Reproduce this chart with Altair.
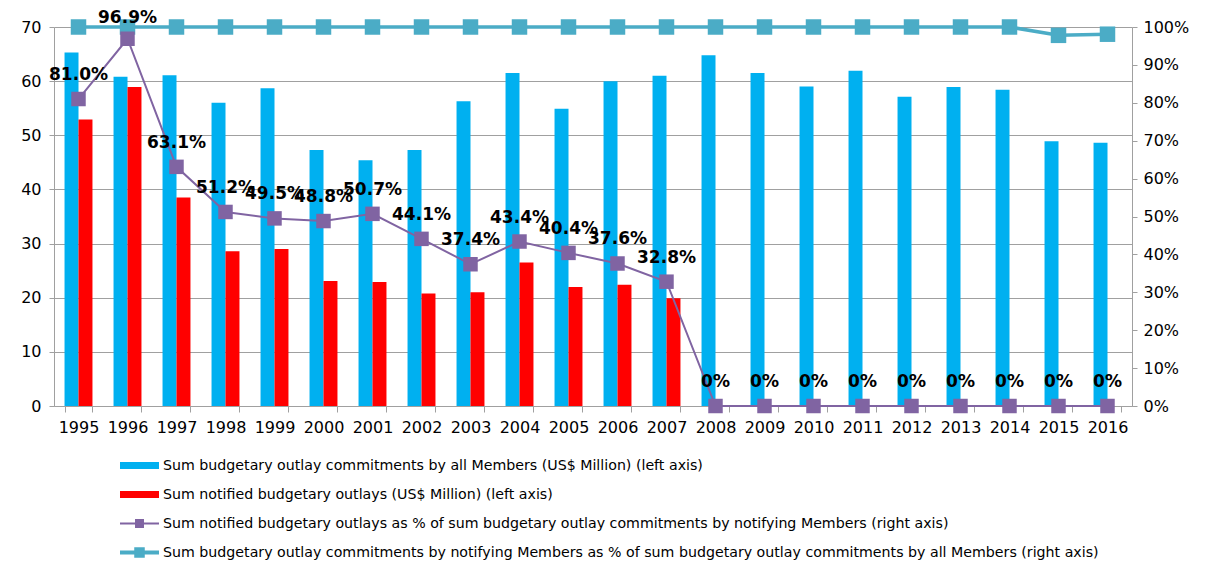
import altair as alt
import pandas as pd

years = [str(y) for y in range(1995, 2017)]
all_members = [65.3, 60.8, 61.1, 56.0, 58.7, 47.3, 45.4, 47.3, 56.3, 61.5, 54.9,
               60.0, 61.0, 64.8, 61.5, 59.0, 61.9, 57.1, 58.9, 58.4, 48.9, 48.6]
notified = [52.9, 58.9, 38.5, 28.6, 29.0, 23.1, 22.9, 20.8, 21.0, 26.5, 22.0,
            22.4, 19.9, None, None, None, None, None, None, None, None, None]
pct_notified = [81.0, 96.9, 63.1, 51.2, 49.5, 48.8, 50.7, 44.1, 37.4, 43.4, 40.4,
                37.6, 32.8, 0, 0, 0, 0, 0, 0, 0, 0, 0]
pct_notifying = [100, 100, 100, 100, 100, 100, 100, 100, 100, 100, 100,
                 100, 100, 100, 100, 100, 100, 100, 100, 100, 97.8, 98.1]

series = [
    "Sum budgetary outlay commitments by all Members (US$ Million) (left axis)",
    "Sum notified budgetary outlays (US$ Million) (left axis)",
    "Sum notified budgetary outlays as % of sum budgetary outlay commitments by notifying Members (right axis)",
    "Sum budgetary outlay commitments by notifying Members as % of sum budgetary outlay commitments by all Members (right axis)",
]
colors = ["#00B0F0", "#FF0000", "#8064A2", "#4BACC6"]
bar_path = "M-1,-0.18H1V0.18H-1Z"
purple_path = "M-1,-0.05H1V0.05H-1Z M-0.23,-0.23H0.23V0.23H-0.23Z"
teal_path = "M-1,-0.1H1V0.1H-1Z M-0.27,-0.27H0.27V0.27H-0.27Z"
shapes = [bar_path, bar_path, purple_path, teal_path]

FONT = "DejaVu Sans"
GRID = "#a0a0a0"

bars_df = pd.DataFrame(
    [{"year": y, "series": series[0], "value": v} for y, v in zip(years, all_members)]
    + [{"year": y, "series": series[1], "value": v} for y, v in zip(years, notified) if v is not None]
)
lines_df = pd.DataFrame({"year": years, "pct": pct_notified, "pct2": pct_notifying})
legend_df = pd.DataFrame({"series": series})

xscale = alt.Scale(paddingInner=0.43, paddingOuter=0.215)
xaxis = alt.Axis(title=None, tickBand="extent", labelFont=FONT, labelFontSize=16,
                 labelColor="#000", tickColor=GRID, domainColor=GRID, tickSize=6,
                 labelPadding=7, labelAngle=0)

bars = alt.Chart(bars_df).mark_bar().encode(
    x=alt.X("year:O", scale=xscale, axis=xaxis),
    xOffset=alt.XOffset("series:N", scale=alt.Scale(domain=series[:2], paddingInner=0, paddingOuter=0)),
    y=alt.Y("value:Q", scale=alt.Scale(domain=[0, 70], nice=False),
            axis=alt.Axis(title=None, values=list(range(0, 71, 10)), grid=True, gridColor=GRID,
                          gridOpacity=1, domainColor=GRID, tickColor=GRID, tickSize=5,
                          labelPadding=8, labelFont=FONT, labelFontSize=16, labelColor="#000",
                          labelOverlap=False)),
    color=alt.Color("series:N", scale=alt.Scale(domain=series[:2], range=colors[:2]), legend=None),
)

yr = alt.Scale(domain=[0, 100], nice=False)
yr_axis = alt.Axis(title=None, orient="right", values=list(range(0, 101, 10)), grid=False,
                   labelExpr="datum.value + '%'", domainColor=GRID, tickColor=GRID,
                   tickSize=5, labelPadding=6, labelFont=FONT, labelFontSize=16, labelColor="#000",
                   labelOverlap=False)

def Y(field):
    return alt.Y(field, type="quantitative", scale=yr, axis=yr_axis)

base = alt.Chart(lines_df)
teal_line = base.mark_line(color=colors[3], strokeWidth=3.5).encode(x="year:O", y=Y("pct2"))
teal_pts = base.mark_point(shape="square", filled=True, opacity=1, size=240, color=colors[3]).encode(
    x="year:O", y=Y("pct2"))
purple_line = base.mark_line(color=colors[2], strokeWidth=2).encode(x="year:O", y=Y("pct"))
purple_pts = base.mark_point(shape="square", filled=True, opacity=1, size=210, color=colors[2]).encode(
    x="year:O", y=Y("pct"))
# labels are kept inside the chart area (as the spreadsheet does) by clamping their anchor
labels = base.transform_calculate(
    lab="datum.pct == 0 ? '0%' : format(datum.pct, '.1f') + '%'",
    lab_y="min(datum.pct, 96)",
).mark_text(font=FONT, fontSize=17, fontWeight="bold", color="#000", dy=-24, baseline="middle").encode(
    x="year:O", y=Y("lab_y"), text="lab:N")

leg = alt.Legend(title=None, orient="none", legendX=66, legendY=419,
                 direction="vertical", labelFont=FONT, labelFontSize=14.2,
                 labelColor="#000", symbolStrokeWidth=0, padding=0,
                 rowPadding=2, labelOffset=4, labelLimit=1000,
                 symbolOpacity=1, symbolSize=1521)

legend_layer = alt.Chart(legend_df).transform_filter("false").mark_point(
    filled=True, opacity=1, size=1521
).encode(
    x="year:O",
    y=Y("pct"),
    color=alt.Color("series:N", scale=alt.Scale(domain=series, range=colors), legend=leg),
    shape=alt.Shape("series:N", scale=alt.Scale(domain=series, range=shapes), legend=leg),
)

right = alt.layer(teal_line, teal_pts, purple_line, purple_pts, labels, legend_layer)

chart = alt.layer(bars, right).resolve_scale(
    y="independent", color="independent", shape="independent"
).properties(
    width=1078, height=379,
    autosize=alt.AutoSizeParams(type="none"),
    padding={"left": 46, "top": 19, "right": 68, "bottom": 160},
).configure_view(stroke=None)

chart.save("out.html", embed_options={"renderer": "svg", "actions": False})
